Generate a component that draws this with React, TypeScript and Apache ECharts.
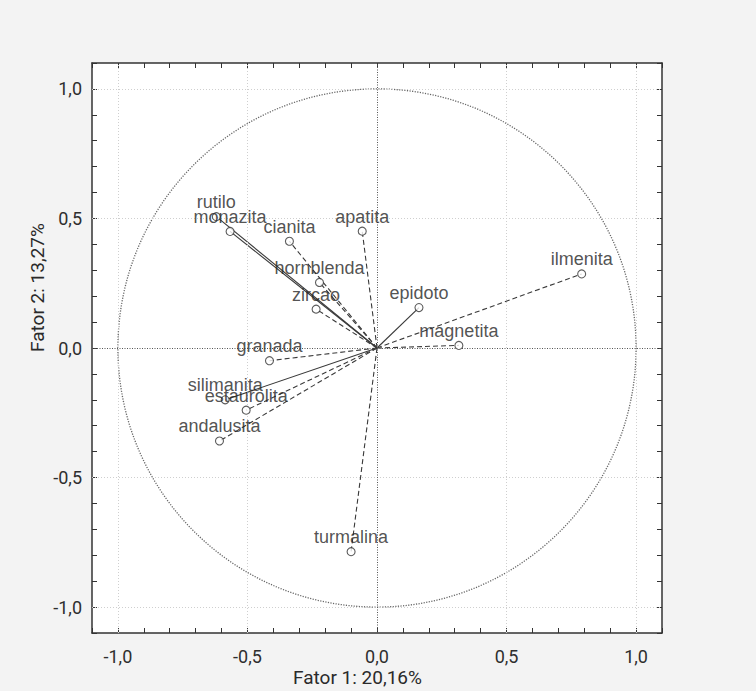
import React, { useEffect, useRef } from "react";
import * as echarts from "echarts";

// Factor loadings of heavy minerals on the first two factors
const minerals = [
  "rutilo", "monazita", "cianita", "apatita", "hornblenda", "zircao", "granada",
  "silimanita", "estaurolita", "andalusita", "turmalina", "epidoto", "magnetita", "ilmenita",
];
const factor1 = [-0.62, -0.567, -0.338, -0.057, -0.222, -0.235, -0.415, -0.586, -0.505, -0.608, -0.1, 0.162, 0.316, 0.79];
const factor2 = [0.507, 0.45, 0.412, 0.451, 0.253, 0.15, -0.049, -0.2, -0.24, -0.359, -0.786, 0.156, 0.01, 0.286];
const lineTypes = [
  "solid", "solid", "dashed", "dashed", "dashed", "dashed", "dashed",
  "solid", "dashed", "dashed", "dashed", "solid", "dashed", "dashed",
];
const gridValues = [-1, -0.5, 0.5, 1];
const axisTitleX = "Fator 1: 20,16%";
const axisTitleY = "Fator 2: 13,27%";

const fmt = (v: number) => {
  if (Math.abs(v * 2 - Math.round(v * 2)) > 1e-6) return "";
  const r = Math.abs(v) < 1e-9 ? 0 : v;
  return r.toFixed(1).replace(".", ",");
};

const tickFont = { fontFamily: "Roboto", fontSize: 18, color: "#2e2e2e" };

function makeX(position: "bottom" | "top", labels: boolean) {
  return {
    type: "value",
    position,
    min: -1.1,
    max: 1.1,
    interval: 0.1,
    axisLine: { show: true, onZero: false, lineStyle: { color: "#333", width: 1.5 } },
    axisTick: { show: true, inside: true, length: 5, lineStyle: { color: "#333" } },
    axisLabel: { show: labels, formatter: fmt, margin: 14, ...tickFont },
    splitLine: { show: false },
  };
}

function makeY(position: "left" | "right", labels: boolean) {
  return {
    type: "value",
    position,
    min: -1.1,
    max: 1.1,
    interval: 0.1,
    axisLine: { show: true, onZero: false, lineStyle: { color: "#333", width: 1.5 } },
    axisTick: { show: true, inside: true, length: 5, lineStyle: { color: "#333" } },
    axisLabel: { show: labels, formatter: fmt, margin: 10, ...tickFont },
    splitLine: { show: false },
  };
}

export default function App() {
  const ref = useRef<HTMLDivElement>(null);

  useEffect(() => {
    if (!ref.current) return;
    const chart = echarts.init(ref.current, undefined, { renderer: "svg" });

    const vectorSeries = minerals.map((name, i) => ({
      type: "line",
      name,
      xAxisIndex: 0,
      yAxisIndex: 0,
      data: [[0, 0], [factor1[i], factor2[i]]],
      symbol: "none",
      silent: true,
      z: 3,
      lineStyle: {
        color: "#3a3a3a",
        width: 1.1,
        type: lineTypes[i] === "dashed" ? [5, 3] : "solid",
      },
    }));

    chart.setOption({
      animation: false,
      backgroundColor: "#f3f3f3",
      grid: {
        left: 92,
        right: 94,
        top: 63,
        bottom: 58,
        show: true,
        backgroundColor: "#ffffff",
        borderWidth: 0,
      },
      xAxis: [makeX("bottom", true), makeX("top", false)],
      yAxis: [makeY("left", true), makeY("right", false)],
      graphic: [
        {
          type: "text",
          left: 293,
          top: 668,
          style: { text: axisTitleX, fontFamily: "Roboto", fontSize: 19, fill: "#2a2a2a" },
        },
        {
          type: "text",
          x: 28,
          y: 352,
          rotation: Math.PI / 2,
          style: { text: axisTitleY, fontFamily: "Roboto", fontSize: 19, fill: "#2a2a2a" },
        },
      ],
      series: [
        {
          type: "line",
          data: [],
          silent: true,
          z: 1,
          markLine: {
            silent: true,
            symbol: "none",
            label: { show: false },
            lineStyle: { color: "#cfcfcf", width: 1, type: [1, 2] },
            data: [
              ...gridValues.map((v) => ({ xAxis: v })),
              ...gridValues.map((v) => ({ yAxis: v })),
            ],
          },
        },
        {
          type: "line",
          data: [],
          silent: true,
          z: 1,
          markLine: {
            silent: true,
            symbol: "none",
            label: { show: false },
            lineStyle: { color: "#555", width: 1, type: [1, 1.5] },
            data: [{ xAxis: 0 }, { yAxis: 0 }],
          },
        },
        {
          // unit correlation circle
          type: "custom",
          silent: true,
          z: 2,
          data: [[0, 0]],
          renderItem: (params: any, api: any) => {
            const c = api.coord([0, 0]);
            const s = api.size([1, 1]);
            return {
              type: "ellipse",
              shape: { cx: c[0], cy: c[1], rx: s[0], ry: s[1] },
              style: { fill: "none", stroke: "#666", lineWidth: 1.3, lineDash: [1.2, 1.4] },
            };
          },
        },
        ...vectorSeries,
        {
          type: "scatter",
          z: 5,
          data: minerals.map((name, i) => ({ name, value: [factor1[i], factor2[i]] })),
          symbol: "circle",
          symbolSize: 8,
          itemStyle: { color: "#ffffff", borderColor: "#333", borderWidth: 1.1 },
          label: {
            show: true,
            position: "top",
            distance: 1,
            formatter: (p: any) => p.name,
            fontFamily: "Liberation Sans, Arial, sans-serif",
            fontSize: 18,
            color: "#262626",
          },
        },
      ],
    });

    return () => chart.dispose();
  }, []);

  return (
    <div
      ref={ref}
      style={{ position: "fixed", left: 0, top: 0, width: 756, height: 691 }}
    />
  );
}
